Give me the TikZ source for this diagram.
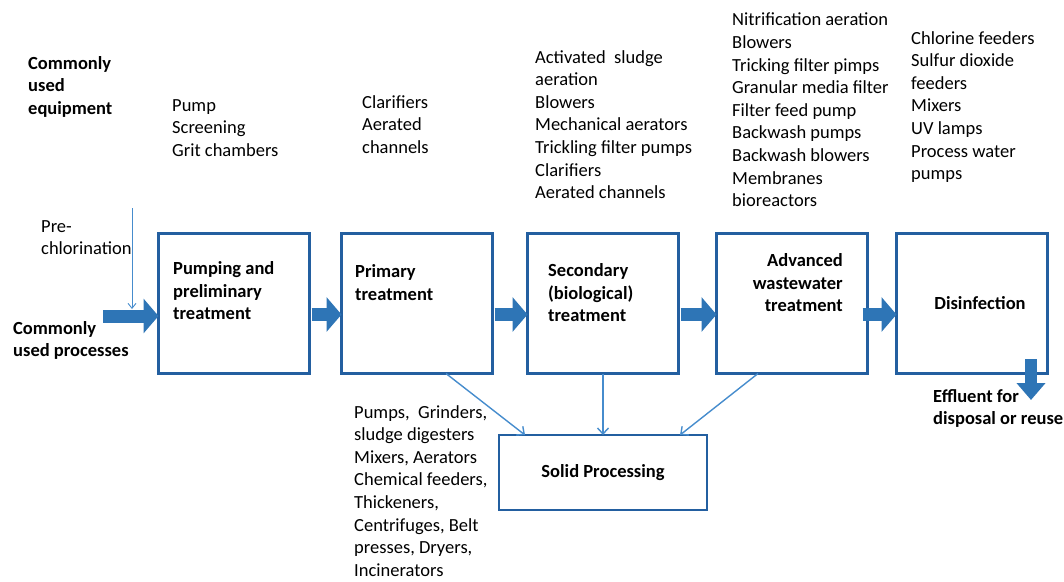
\documentclass[tikz,border=0pt]{standalone}
\usepackage{fontspec}
\setmainfont{Carlito}
\usepackage{xcolor}
\usetikzlibrary{arrows.meta,positioning}
\definecolor{boxblue}{RGB}{35, 95, 160}
\definecolor{flowblue}{RGB}{46, 117, 182}
\definecolor{linkblue}{RGB}{70, 140, 205}

\begin{document}
\begin{tikzpicture}[
    x=1pt, y=-1pt,
    every node/.style={align=left, inner sep=0pt, font=\fontsize{18.5}{22.6}\selectfont},
    stage/.style={rectangle, draw=boxblue, line width=2.6pt, outer sep=0pt, minimum width=151pt, minimum height=140pt},
    solids/.style={rectangle, draw=boxblue, line width=2.6pt, outer sep=0pt, minimum width=208pt, minimum height=75pt, font=\fontsize{18.5}{22.6}\selectfont\bfseries},
    stagelabel/.style={anchor=north west, font=\fontsize{18.5}{22.6}\selectfont\bfseries},
    sidelabel/.style={anchor=north west, font=\fontsize{18.5}{22.6}\selectfont\bfseries},
    equiplist/.style={anchor=north west},
    flow/.style={flowblue, line width=13pt, -{Triangle[length=15pt, width=34pt]}},
    link/.style={linkblue, line width=1.4pt, -{Straight Barb[length=6pt, width=11pt]}}
]
\useasboundingbox (0,0) rectangle (1064,581);

% Process stages
\node[stage] (pumping) at (234,303.5) {};
\node[stage, right=32pt of pumping] (primary) {};
\node[stage, right=35pt of primary] (secondary) {};
\node[stage, right=38pt of secondary] (advanced) {};
\node[stage, right=29pt of advanced] (disinfection) {};
\node[solids, below=61.5pt of secondary] (solid) {Solid Processing};

% Stage labels
\node[stagelabel] (pumping_label) at ([xshift=14.5pt, yshift=-28pt]pumping.north west) {Pumping and\\preliminary\\treatment};
\node[stagelabel] (primary_label) at ([xshift=13.5pt, yshift=-31pt]primary.north west) {Primary\\treatment};
\node[stagelabel] (secondary_label) at ([xshift=20.5pt, yshift=-30pt]secondary.north west) {Secondary\\(biological)\\treatment};
\node[stagelabel, anchor=north east, align=right] (advanced_label) at ([xshift=-24.5pt, yshift=-20pt]advanced.north east) {Advanced\\wastewater\\treatment};
\node[stagelabel, anchor=center] (disinfection_label) at ([xshift=8pt]disinfection.center) {Disinfection};

% Side labels
\node[sidelabel] (equipment_label) at (28,56) {Commonly\\used\\equipment};
\node[sidelabel] (processes_label) at (13,321) {Commonly\\used processes};
\node[sidelabel] (effluent_label) at (933,389) {Effluent for\\disposal or reuse};
\node[equiplist] (prechlor_label) at (41,220) {Pre-\\chlorination};

% Equipment lists
\node[equiplist] (pumping_equip) at (172,99) {Pump\\Screening\\Grit chambers};
\node[equiplist] (primary_equip) at (362,95) {Clarifiers\\Aerated\\channels};
\node[equiplist] (secondary_equip) at (535,50) {Activated~~sludge\\aeration\\Blowers\\Mechanical aerators\\Trickling filter pumps\\Clarifiers\\Aerated channels};
\node[equiplist] (advanced_equip) at (732,13) {Nitrification aeration\\Blowers\\Tricking filter pimps\\Granular media filter\\Filter feed pump\\Backwash pumps\\Backwash blowers\\Membranes\\bioreactors};
\node[equiplist] (disinfection_equip) at (911,31) {Chlorine feeders\\Sulfur dioxide\\feeders\\Mixers\\UV lamps\\Process water\\pumps};
\node[equiplist] (solid_equip) at (354,405) {Pumps,~ Grinders,\\sludge digesters\\Mixers, Aerators\\Chemical feeders,\\Thickeners,\\Centrifuges, Belt\\presses, Dryers,\\Incinerators};

% Main flow
\coordinate (inflow) at (103,316);
\coordinate (chlor_top) at (132,208);
\coordinate (chlor_end) at (132,309);
\draw[flow] (inflow) -- (pumping.west |- inflow);
\draw[linkblue, line width=0.9pt, -{Straight Barb[length=5pt, width=8pt]}] (chlor_top) -- (chlor_end);
\draw[flow] ([xshift=2pt, yshift=-11pt]pumping.east) -- ([yshift=-11pt]primary.west);
\draw[flow] ([xshift=2pt, yshift=-11pt]primary.east) -- ([yshift=-11pt]secondary.west);
\draw[flow] ([xshift=2pt, yshift=-11pt]secondary.east) -- ([yshift=-11pt]advanced.west);
\draw[flow] ([xshift=-5pt, yshift=-11pt]advanced.east) -- ([yshift=-11pt]disinfection.west);
\draw[flow, line width=12pt, -{Triangle[length=17pt, width=28pt]}] ([xshift=59pt, yshift=14.5pt]disinfection.south) -- ([xshift=59pt, yshift=-26.5pt]disinfection.south);

% Sludge to solids
\draw[link] ([xshift=29pt]primary.south) -- ([xshift=-78pt]solid.north);
\draw[link] (secondary.south) -- (solid.north);
\draw[link] ([xshift=-34pt]advanced.south) -- ([xshift=77pt]solid.north);

\end{tikzpicture}
\end{document}
